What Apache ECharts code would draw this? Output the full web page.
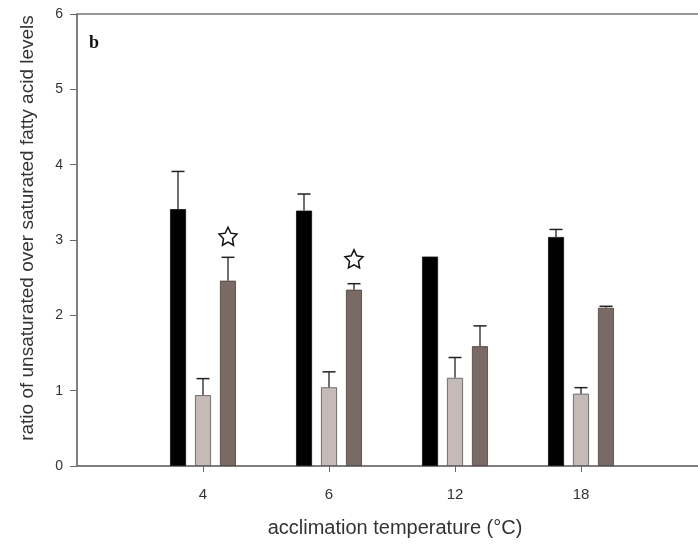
<!DOCTYPE html>
<html>
<head>
<meta charset="utf-8">
<script src="https://cdn.jsdelivr.net/npm/echarts@6/dist/echarts.min.js"></script>
<style>html,body{margin:0;padding:0;background:#fff}#c{width:698px;height:545px}</style>
</head>
<body>
<div id="c"></div>
<script>
const categories = ['4', '6', '12', '18'];
const yTicks = [0, 1, 2, 3, 4, 5, 6];
const blackVals = [3.41, 3.39, 2.78, 3.04];
const blackErrTop = [3.91, 3.61, null, 3.14];
const lightVals = [0.94, 1.045, 1.17, 0.96];
const lightErrTop = [1.16, 1.25, 1.44, 1.04];
const darkVals = [2.46, 2.34, 1.59, 2.10];
const darkErrTop = [2.77, 2.42, 1.86, 2.12];
const starCats = ['4', '6'];
const starVals = [3.05, 2.75];

const pos = categories.map((c, i) => i + 1);
const starPath = 'path://M50 0 L64.7 29.8 L97.55 34.55 L73.8 57.7 L79.39 90.45 L50 75 L20.61 90.45 L26.2 57.7 L2.45 34.55 L35.3 29.8 Z';
const FONT = 'Liberation Sans, Arial, sans-serif';

function pairs(vals) { return vals.map((v, i) => [pos[i], v]); }
function errData(vals, tops) { return vals.map((v, i) => [pos[i], v, tops[i]]).filter(d => d[2] != null); }

function errSeries(vals, tops, offset) {
  return {
    type: 'custom',
    data: errData(vals, tops),
    z: 1,
    renderItem: function (params, api) {
      const x = api.value(0);
      const p0 = api.coord([x, api.value(1)]);
      const p1 = api.coord([x, api.value(2)]);
      const cx = p0[0] + offset;
      const half = 6.5;
      return {
        type: 'group',
        children: [
          { type: 'line', shape: { x1: cx, y1: p0[1], x2: cx, y2: p1[1] }, style: { stroke: '#222', lineWidth: 1.3 } },
          { type: 'line', shape: { x1: cx - half, y1: p1[1], x2: cx + half, y2: p1[1] }, style: { stroke: '#222', lineWidth: 1.5 } }
        ]
      };
    }
  };
}

const chart = echarts.init(document.getElementById('c'), null, { renderer: 'canvas' });
chart.setOption({
  animation: false,
  backgroundColor: '#fff',
  grid: { left: 77, top: 14, width: 630, height: 452, show: true, borderColor: '#777', borderWidth: 1.5, backgroundColor: 'transparent', outerBoundsMode: 'none', containLabel: false },
  graphic: [
    { type: 'text', left: 89, top: 34, style: { text: 'b', font: 'bold 18px "Liberation Serif", "DejaVu Serif", serif', fill: '#111' } }
  ],
  xAxis: {
    type: 'value', min: 0, max: 5, interval: 1,
    name: 'acclimation temperature (°C)', nameLocation: 'middle', nameGap: 52,
    nameTextStyle: { fontFamily: FONT, fontSize: 20, color: '#333', padding: [0, 0, 0, 6] },
    splitLine: { show: false },
    axisLine: { lineStyle: { color: '#777', width: 1.5 } },
    axisTick: { customValues: pos, length: 6, lineStyle: { color: '#666' } },
    axisLabel: { customValues: pos, formatter: v => categories[v - 1], margin: 21, fontFamily: FONT, fontSize: 15, color: '#333' }
  },
  yAxis: {
    type: 'value', min: 0, max: 6, interval: 1,
    name: 'ratio of unsaturated over saturated fatty acid levels', nameLocation: 'middle', nameGap: 40,
    nameTextStyle: { fontFamily: FONT, fontSize: 19, color: '#333', padding: [0, 0, 0, 24] },
    splitLine: { show: false },
    axisLine: { show: true, lineStyle: { color: '#777', width: 1.5 } },
    axisTick: { show: true, length: 7, lineStyle: { color: '#666' } },
    axisLabel: { customValues: yTicks, margin: 14, fontFamily: FONT, fontSize: 14, color: '#333' }
  },
  series: [
    { type: 'bar', data: pairs(blackVals), barWidth: 16, barGap: '56%', itemStyle: { color: '#000', borderColor: '#111', borderWidth: 0.8 }, z: 2 },
    { type: 'bar', data: pairs(lightVals), barWidth: 16, barGap: '56%', itemStyle: { color: '#c6bab8', borderColor: '#555', borderWidth: 0.8 }, z: 2 },
    { type: 'bar', data: pairs(darkVals), barWidth: 16, barGap: '56%', itemStyle: { color: '#7a6a65', borderColor: '#4a403c', borderWidth: 0.8 }, z: 2 },
    errSeries(blackVals, blackErrTop, -25),
    errSeries(lightVals, lightErrTop, 0),
    errSeries(darkVals, darkErrTop, 25),
    {
      type: 'scatter',
      data: starCats.map((c, i) => [categories.indexOf(c) + 1, starVals[i]]),
      symbol: starPath, symbolSize: 18, symbolOffset: [25, 0],
      itemStyle: { color: '#fff', borderColor: '#111', borderWidth: 1.5, opacity: 1 },
      z: 5
    }
  ]
});
</script>
</body>
</html>
